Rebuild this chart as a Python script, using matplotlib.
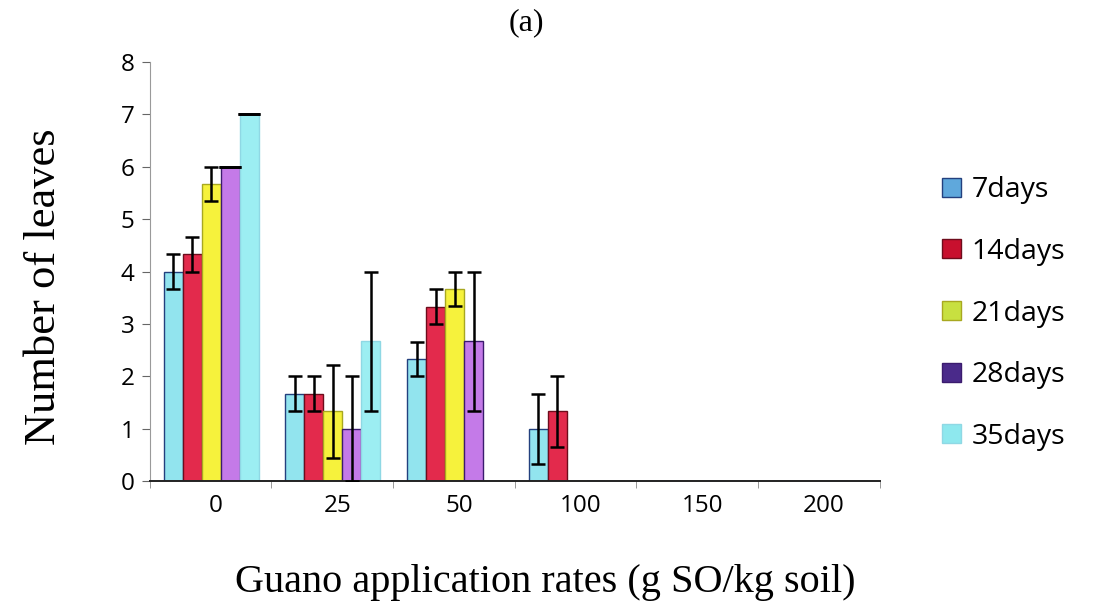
import numpy as np
import matplotlib
matplotlib.use("Agg")
import matplotlib.pyplot as plt

# Leaf counts per guano rate and sampling day
rates = ["0", "25", "50", "100", "150", "200"]
series = ["7days", "14days", "21days", "28days", "35days"]

days7 = [4.0, 1.67, 2.33, 1.0, 0, 0]
days14 = [4.33, 1.67, 3.33, 1.33, 0, 0]
days21 = [5.67, 1.33, 3.67, 0, 0, 0]
days28 = [6.0, 1.0, 2.67, 0, 0, 0]
days35 = [7.0, 2.67, 0, 0, 0, 0]

err7 = [0.33, 0.33, 0.33, 0.67, 0, 0]
err14 = [0.33, 0.33, 0.33, 0.67, 0, 0]
err21 = [0.33, 0.88, 0.33, 0, 0, 0]
err28 = [0, 1.0, 1.33, 0, 0, 0]
err35 = [0, 1.33, 0, 0, 0, 0]

values = [days7, days14, days21, days28, days35]
errors = [err7, err14, err21, err28, err35]

fill_colors = ["#92e4ee", "#e32a4c", "#f6f23c", "#c47ae8", "#9ceef2"]
edge_colors = ["#23407e", "#6e0c1c", "#a8a820", "#3b1b6e", "#8fd8e4"]
legend_colors = ["#5fa8dc", "#c8102e", "#c8e040", "#4a2a8a", "#8ee8ee"]

fig = plt.figure(figsize=(10.93, 6.09), dpi=100)
ax = fig.add_axes([0.137, 0.21, 0.668, 0.688])

x = np.arange(len(rates))
width = 0.156
offsets = (np.arange(len(series)) - 2) * width + 0.005

for i, name in enumerate(series):
    vals = np.array(values[i])
    errs = np.array(errors[i])
    ax.bar(x + offsets[i], vals, width, color=fill_colors[i],
           edgecolor=edge_colors[i], linewidth=1.0, label=name, zorder=2)
    mask = errs > 0
    ax.errorbar(x[mask] + offsets[i], vals[mask], yerr=errs[mask], fmt="none",
                ecolor="black", elinewidth=1.8, capsize=5, capthick=1.8, zorder=3)
    # bars without spread still get a cap line at the top
    flat = (errs == 0) & (vals > 0)
    if flat.any():
        ax.errorbar(x[flat] + offsets[i], vals[flat], yerr=np.zeros(flat.sum()),
                    fmt="none", ecolor="black", capsize=8, capthick=2.0, zorder=3)

ax.set_xlim(-0.5, len(rates) - 0.5)
ax.set_ylim(0, 8)
ax.set_yticks(range(0, 9))
ax.set_xticks(x + 0.04)
ax.set_xticklabels(rates)
ax.set_xticks(np.arange(len(rates) + 1) - 0.5, minor=True)
ax.tick_params(axis="x", which="major", length=0, pad=9)
ax.tick_params(axis="x", which="minor", length=5, color="#888888")
ax.tick_params(axis="y", length=6, color="#666666", pad=5)
for lab in ax.get_xticklabels() + ax.get_yticklabels():
    lab.set_fontfamily("Open Sans")
    lab.set_fontsize(17.5)

ax.spines["top"].set_visible(False)
ax.spines["right"].set_visible(False)
ax.spines["left"].set_color("#9a9a9a")
ax.spines["left"].set_linestyle((0, (4, 1)))
ax.spines["bottom"].set_color("#222222")
ax.spines["bottom"].set_linewidth(1.4)

ax.set_xlabel("Guano application rates (g SO/kg soil)", fontfamily="Liberation Serif",
              fontsize=29)
ax.set_ylabel("Number of leaves", fontfamily="Liberation Serif", fontsize=32)
ax.xaxis.set_label_coords(0.542, -0.197)
ax.yaxis.set_label_coords(-0.118, 0.463)
fig.text(0.482, 0.963, "(a)", fontfamily="Liberation Serif", fontsize=23,
         ha="center", va="center")

handles, labels = ax.get_legend_handles_labels()
leg = ax.legend(handles, labels, loc="center left", bbox_to_anchor=(1.05, 0.4),
                frameon=False, handlelength=0.65, handleheight=0.65, handletextpad=0.4,
                labelspacing=1.18, prop={"family": "Open Sans", "size": 20.5})
for patch, c, e in zip(leg.get_patches(), legend_colors, edge_colors):
    patch.set_facecolor(c)
    patch.set_edgecolor(e)

fig.savefig("out.png", dpi=100)
